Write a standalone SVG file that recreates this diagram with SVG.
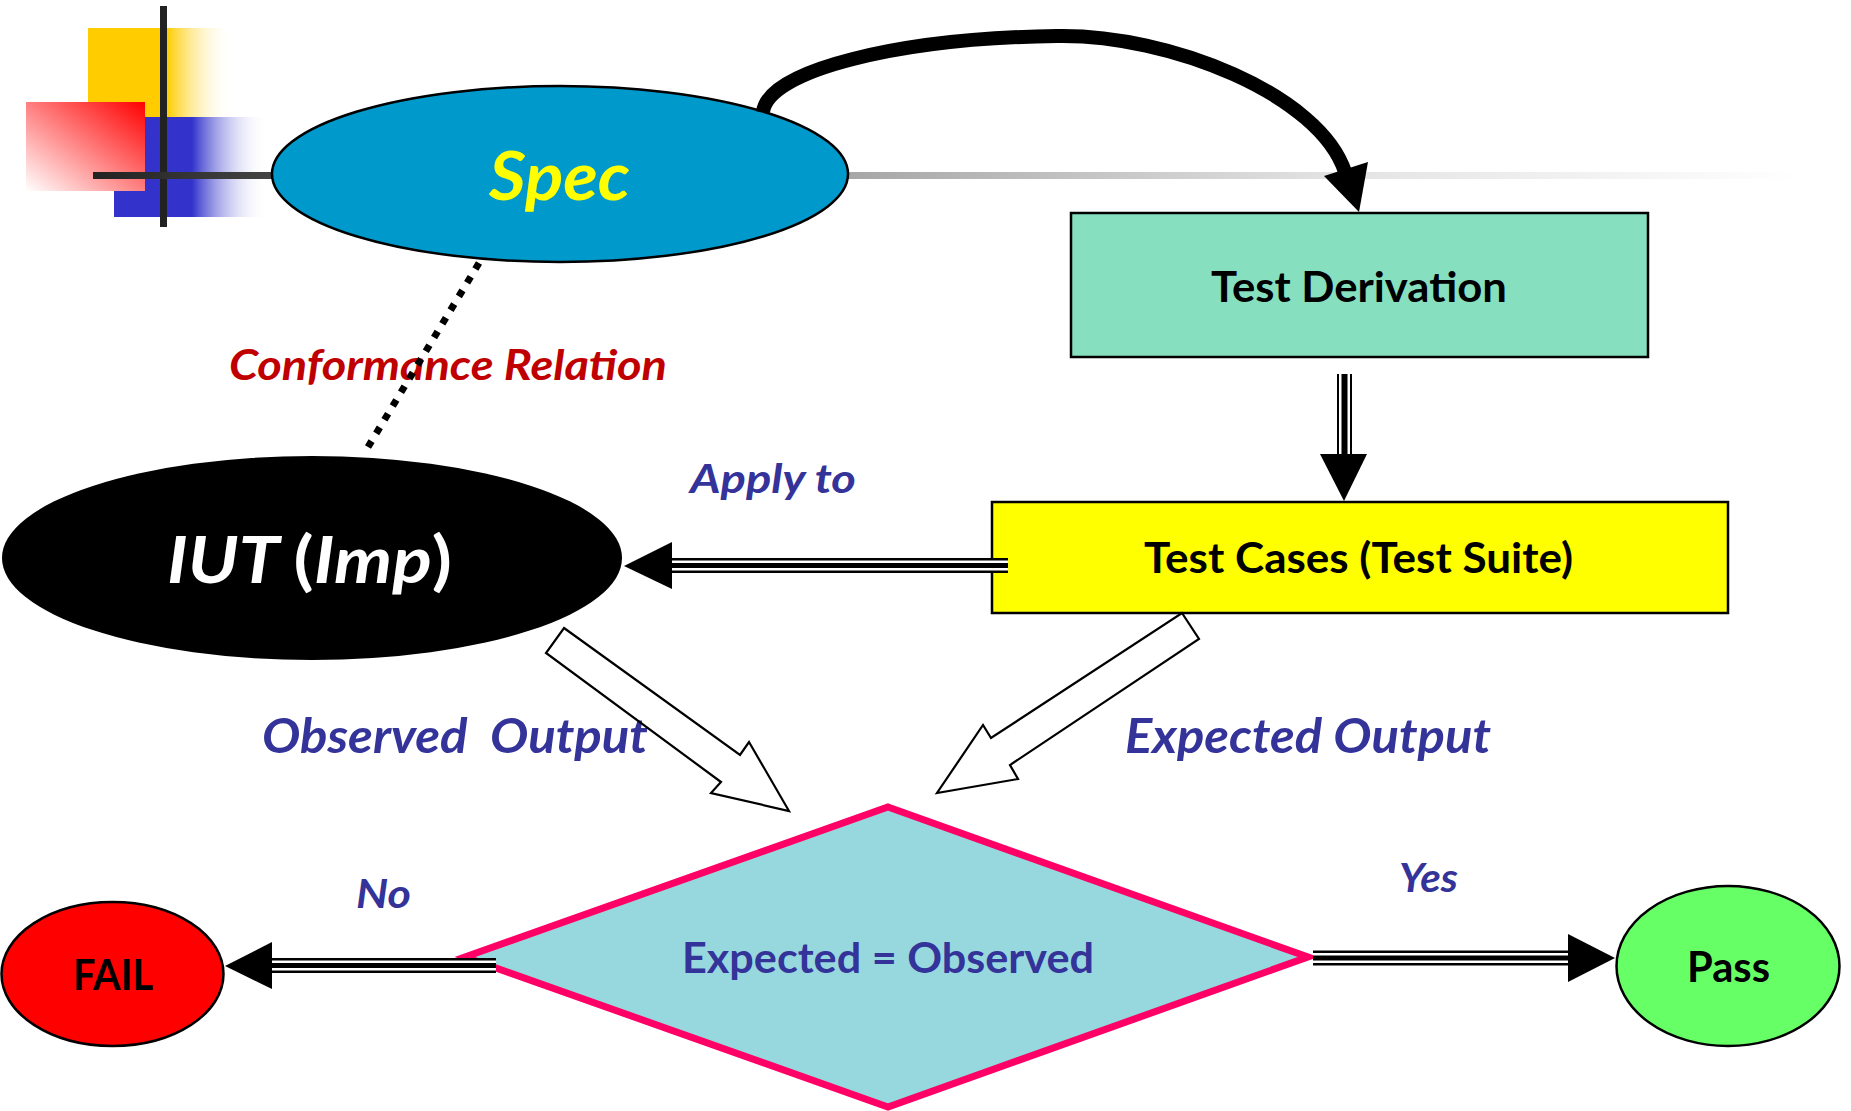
<svg xmlns="http://www.w3.org/2000/svg" width="1851" height="1111" viewBox="0 0 1851 1111">
  <defs>
    <linearGradient id="gYellow" x1="0" y1="0" x2="1" y2="0">
      <stop offset="0" stop-color="#FFCC00"/>
      <stop offset="0.545" stop-color="#FFCC00"/>
      <stop offset="1" stop-color="#FFFFFF" stop-opacity="0"/>
    </linearGradient>
    <linearGradient id="gBlue" x1="0" y1="0" x2="1" y2="0">
      <stop offset="0" stop-color="#3333CC"/>
      <stop offset="0.51" stop-color="#3333CC"/>
      <stop offset="1" stop-color="#FFFFFF" stop-opacity="0"/>
    </linearGradient>
    <linearGradient id="gRed" x1="1" y1="0" x2="0" y2="1">
      <stop offset="0" stop-color="#FF0000"/>
      <stop offset="1" stop-color="#FFFFFF"/>
    </linearGradient>
    <linearGradient id="gRuleDark" gradientUnits="userSpaceOnUse" x1="93" y1="0" x2="272" y2="0">
      <stop offset="0" stop-color="#222222"/>
      <stop offset="1" stop-color="#444444"/>
    </linearGradient>
    <linearGradient id="gRuleGray" gradientUnits="userSpaceOnUse" x1="848" y1="0" x2="1800" y2="0">
      <stop offset="0" stop-color="#A6A6A6"/>
      <stop offset="0.5" stop-color="#E2E2E2"/>
      <stop offset="1" stop-color="#FFFFFF"/>
    </linearGradient>
    <style>
      .lbl { font-family: Lato, "Open Sans", "Liberation Sans", sans-serif; font-weight: bold; }
      .it { font-style: italic; }
      .up { font-style: normal; }
      .ink { fill: #333399; }
      .edge { stroke: #000; stroke-width: 2.5; }
      .tb { stroke: #000; stroke-width: 15; fill: none; }
      .tw { stroke: #FFF; stroke-width: 2.5; fill: none; }
      .head { fill: #000; }
      .hollow { fill: none; stroke: #000; stroke-width: 2.2; stroke-linejoin: miter; }
    </style>
  </defs>

  <rect width="1851" height="1111" fill="#FFFFFF"/>

  <!-- corner ornament -->
  <g id="ornament">
    <rect x="88" y="28" width="145" height="89" fill="url(#gYellow)"/>
    <rect x="114" y="117" width="153" height="100" fill="url(#gBlue)"/>
    <rect x="26" y="102" width="119" height="89" fill="url(#gRed)"/>
    <line x1="163.5" y1="6" x2="163.5" y2="227" stroke="#222" stroke-width="7"/>
    <line x1="93" y1="175.5" x2="272" y2="175.5" stroke="url(#gRuleDark)" stroke-width="7"/>
    <rect x="848" y="172" width="952" height="7" fill="url(#gRuleGray)"/>
  </g>

  <!-- nodes -->
  <g id="spec">
    <ellipse cx="560" cy="174" rx="288" ry="88" fill="#0099CC" class="edge"/>
    <text class="lbl it" x="489" y="200" font-size="67" fill="#FFFF00" textLength="141" lengthAdjust="spacingAndGlyphs">Spec</text>
  </g>

  <g id="test-derivation">
    <rect x="1071" y="213" width="577" height="144" fill="#86E0C0" class="edge"/>
    <text class="lbl" x="1211" y="302" font-size="42" fill="#000" textLength="296" lengthAdjust="spacingAndGlyphs">Test Derivation</text>
  </g>

  <g id="test-cases">
    <rect x="992" y="502" width="736" height="111" fill="#FFFF00" class="edge"/>
    <text class="lbl" x="1144" y="573" font-size="42" fill="#000" textLength="429" lengthAdjust="spacingAndGlyphs">Test Cases (Test Suite)</text>
  </g>

  <g id="iut">
    <ellipse cx="312" cy="558" rx="310" ry="102" fill="#000"/>
    <text class="lbl" x="167" y="583" font-size="65" fill="#FFF" textLength="285" lengthAdjust="spacingAndGlyphs"><tspan class="it">IUT </tspan><tspan class="up">(</tspan><tspan class="it">Imp</tspan><tspan class="up">)</tspan></text>
  </g>

  <g id="compare">
    <polygon points="888,807 1308,957 888,1107 465,957" fill="#97D8DF" stroke="#FF0066" stroke-width="7" stroke-linejoin="miter" stroke-miterlimit="10"/>
    <text class="lbl ink" x="682" y="973" font-size="42" textLength="412" lengthAdjust="spacingAndGlyphs">Expected = Observed</text>
  </g>

  <g id="fail">
    <ellipse cx="112.5" cy="974" rx="111" ry="72" fill="#FF0000" class="edge"/>
    <text class="lbl" x="73" y="990" font-size="42" fill="#000" textLength="80" lengthAdjust="spacingAndGlyphs">FAIL</text>
  </g>

  <g id="pass">
    <ellipse cx="1728" cy="966" rx="111.5" ry="80" fill="#66FF66" class="edge"/>
    <text class="lbl" x="1687" y="982" font-size="42" fill="#000" textLength="83" lengthAdjust="spacingAndGlyphs">Pass</text>
  </g>

  <!-- edge labels -->
  <g id="labels">
    <text class="lbl it" x="229" y="380" font-size="42" fill="#C00000" textLength="438" lengthAdjust="spacingAndGlyphs">Conformance Relation</text>
    <text class="lbl it ink" x="690" y="493" font-size="40" textLength="166" lengthAdjust="spacingAndGlyphs">Apply to</text>
    <text class="lbl it ink" x="262" y="753" font-size="48" textLength="386" lengthAdjust="spacingAndGlyphs" xml:space="preserve">Observed  Output</text>
    <text class="lbl it ink" x="1125" y="753" font-size="47" textLength="366" lengthAdjust="spacingAndGlyphs">Expected Output</text>
    <text class="lbl it ink" x="356" y="908" font-size="40" textLength="55" lengthAdjust="spacingAndGlyphs">No</text>
    <text class="lbl it ink" x="1399" y="892" font-size="40" textLength="59" lengthAdjust="spacingAndGlyphs">Yes</text>
  </g>

  <!-- connectors -->
  <g id="connectors">
    <!-- Spec to Test Derivation -->
    <path d="M 763 112 C 768 70, 900 38, 1057 36 C 1170 34, 1320 95, 1345 172" fill="none" stroke="#000" stroke-width="14"/>
    <polygon class="head" points="1359,212 1324,176 1368,162"/>

    <!-- Spec to IUT conformance -->
    <line x1="479" y1="263" x2="368" y2="447" stroke="#000" stroke-width="7" stroke-dasharray="7 9"/>

    <!-- Test Derivation to Test Cases -->
    <line class="tb" x1="1344.5" y1="374" x2="1344.5" y2="455"/>
    <line class="tw" x1="1340.25" y1="374" x2="1340.25" y2="455"/>
    <line class="tw" x1="1348.75" y1="374" x2="1348.75" y2="455"/>
    <polygon class="head" points="1320,454 1367,454 1344,501"/>

    <!-- Test Cases to IUT -->
    <line class="tb" x1="671" y1="565.5" x2="1008" y2="565.5"/>
    <line class="tw" x1="671" y1="561.75" x2="1008" y2="561.75"/>
    <line class="tw" x1="671" y1="569.25" x2="1008" y2="569.25"/>
    <polygon class="head" points="672,542 672,589 624,566"/>

    <!-- observed output -->
    <polygon class="hollow" points="564,628 740,755 749,742 789,811 711,793 721,782 546,653"/>
    <!-- expected output -->
    <polygon class="hollow" points="1182,613 1199,639 1010,765 1018,779 937,793 983,725 991,738"/>

    <!-- No branch -->
    <line class="tb" x1="271" y1="965.5" x2="496" y2="965.5"/>
    <line class="tw" x1="271" y1="961.75" x2="496" y2="961.75"/>
    <line class="tw" x1="271" y1="969.25" x2="496" y2="969.25"/>
    <polygon class="head" points="272,942 272,989 225,966"/>

    <!-- Yes branch -->
    <line class="tb" x1="1313" y1="958" x2="1569" y2="958"/>
    <line class="tw" x1="1313" y1="954.25" x2="1569" y2="954.25"/>
    <line class="tw" x1="1313" y1="961.75" x2="1569" y2="961.75"/>
    <polygon class="head" points="1568,934 1568,982 1615,958"/>
  </g>
</svg>
